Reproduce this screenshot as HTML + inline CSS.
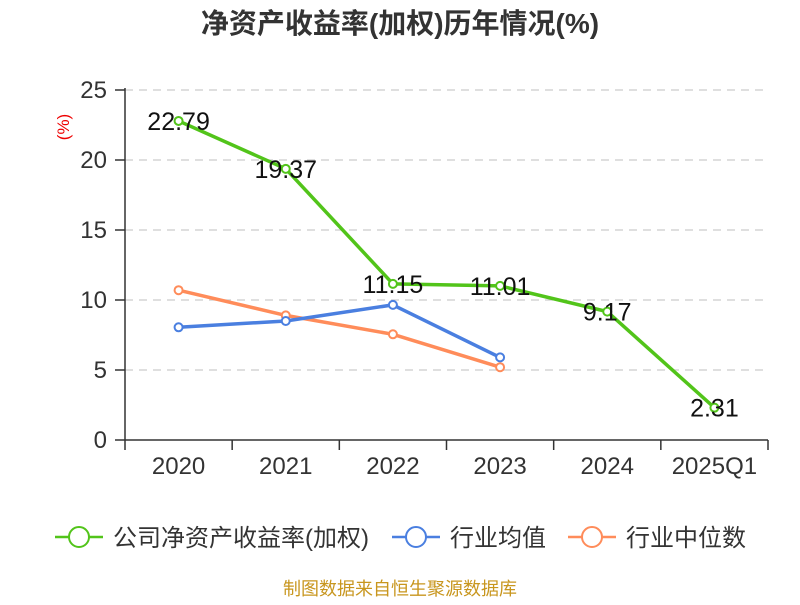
<!DOCTYPE html>
<html><head><meta charset="utf-8"><style>
body{margin:0;background:#fff;}
svg text{font-family:"Liberation Sans","Noto Sans CJK SC",sans-serif;}
</style></head><body>
<svg id="c" width="800" height="600" xmlns="http://www.w3.org/2000/svg">
<text x="400" y="33" text-anchor="middle" font-size="28" font-weight="bold" fill="#333">净资产收益率(加权)历年情况(%)</text>
<text transform="translate(69,127) rotate(-90)" text-anchor="middle" font-size="17" fill="#e00">(%)</text>
<g id="grid"></g><g id="axes"></g><g id="series"></g>
<g>
<g><line x1="55" y1="537" x2="103" y2="537" stroke="#52c41a" stroke-width="2.5"/><circle cx="79" cy="537" r="10" fill="#fff" stroke="#52c41a" stroke-width="2"/><text x="113" y="546" font-size="24" fill="#333">公司净资产收益率(加权)</text></g>
<g><line x1="392" y1="537" x2="440" y2="537" stroke="#4a7fe0" stroke-width="2.5"/><circle cx="416" cy="537" r="10" fill="#fff" stroke="#4a7fe0" stroke-width="2"/><text x="450" y="546" font-size="24" fill="#333">行业均值</text></g>
<g><line x1="568" y1="537" x2="616" y2="537" stroke="#ff8c5a" stroke-width="2.5"/><circle cx="592" cy="537" r="10" fill="#fff" stroke="#ff8c5a" stroke-width="2"/><text x="626" y="546" font-size="24" fill="#333">行业中位数</text></g>
</g>
<text x="400" y="595" text-anchor="middle" font-size="18" fill="#c8961e">制图数据来自恒生聚源数据库</text>
</svg>
<script>
const categories=["2020","2021","2022","2023","2024","2025Q1"];
const roeValues=[22.79,19.37,11.15,11.01,9.17,2.31];
const avgValues=[8.05,8.5,9.65,5.9];
const medianValues=[10.7,8.9,7.55,5.2];
const yTicks=[0,5,10,15,20,25];
const NS="http://www.w3.org/2000/svg";
const X0=125,X1=768,Y0=440,Y1=90,YMAX=25;
const step=(X1-X0)/categories.length;
const xs=i=>X0+step*(i+0.5);
const ys=v=>Y0-(v/YMAX)*(Y0-Y1);
function mk(t,a,p){const e=document.createElementNS(NS,t);for(const k in a)e.setAttribute(k,a[k]);p.appendChild(e);return e;}
const grid=document.getElementById('grid'),axes=document.getElementById('axes'),ser=document.getElementById('series');
yTicks.forEach(v=>{
 if(v>0){const g=mk('line',{x1:X0,x2:X1,y1:ys(v),y2:ys(v),stroke:'#ccc','stroke-dasharray':'8,6','stroke-width':1.2},grid);
 
 }
 mk('line',{x1:X0-10,x2:X0,y1:ys(v),y2:ys(v),stroke:'#333','stroke-width':1.5},axes);
 const t=mk('text',{x:X0-18,y:ys(v)+8,'text-anchor':'end','font-size':24,fill:'#333'},axes);t.textContent=v;
 
 
});
mk('line',{x1:X0,x2:X0,y1:Y1-2,y2:Y0,stroke:'#333','stroke-width':1.5},axes);
mk('line',{x1:X0,x2:X1,y1:Y0,y2:Y0,stroke:'#333','stroke-width':1.5},axes);
for(let i=0;i<=categories.length;i++)mk('line',{x1:X0+step*i,x2:X0+step*i,y1:Y0,y2:Y0+10,stroke:'#333','stroke-width':1.5},axes);
categories.forEach((c,i)=>{const t=mk('text',{x:xs(i),y:Y0+34,'text-anchor':'middle','font-size':24,fill:'#333'},axes);t.textContent=c;
 
 });
function line(vals,color,name,labels){
 const g=mk('g',{},ser);
 
 
 mk('polyline',{points:vals.map((v,i)=>xs(i)+','+ys(v)).join(' '),fill:'none',stroke:color,'stroke-width':3.5,'stroke-linejoin':'round'},g);
 vals.forEach((v,i)=>{const p=mk('circle',{cx:xs(i),cy:ys(v),r:4,fill:'#fff',stroke:color,'stroke-width':2},g);
  
  
  if(labels){const t=mk('text',{x:xs(i),y:ys(v)+9,'text-anchor':'middle','font-size':25,fill:'#111'},g);t.textContent=v.toFixed(2);
   
   }
 });
}
line(medianValues,'#ff8c5a','industry-median-line',false);
line(avgValues,'#4a7fe0','industry-avg-line',false);
line(roeValues,'#52c41a','roe-line',true);
</script>
</body></html>
